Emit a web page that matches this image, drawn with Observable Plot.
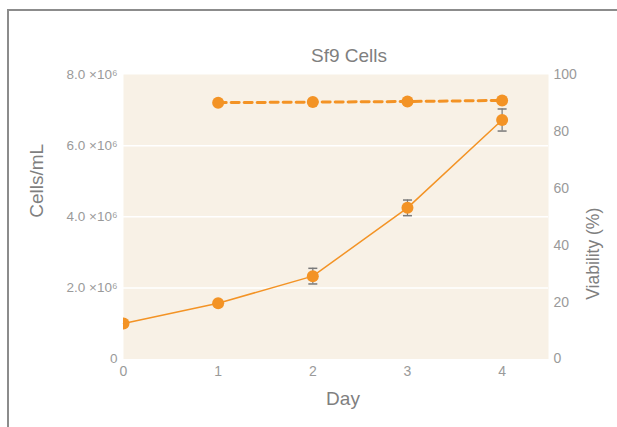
<!DOCTYPE html>
<html><head><meta charset="utf-8">
<script src="https://cdn.jsdelivr.net/npm/d3@7"></script>
<script src="https://cdn.jsdelivr.net/npm/@observablehq/plot@0.6"></script>
<style>
body{margin:0;background:#fff;overflow:hidden;width:617px;height:427px}
#box{position:absolute;left:7px;top:9px;width:700px;height:500px;border:2px solid #8c8c8c;}
#chart{position:absolute;left:0;top:0}
</style>
</head><body><div id="box"></div><div id="chart"></div>
<script>
const title = "Sf9 Cells";
const xLabel = "Day";
const yLabel = "Cells/mL";
const y2Label = "Viability (%)";
const days = [0, 1, 2, 3, 4];
const cells = [1.0e6, 1.57e6, 2.33e6, 4.25e6, 6.72e6];
const cellsErr = [0, 0, 0.22e6, 0.22e6, 0.31e6];
const viaDays = [1, 2, 3, 4];
const viability = [90.1, 90.3, 90.5, 90.9];
const xTicks = [0, 1, 2, 3, 4];
const yTicks = [0, 2e6, 4e6, 6e6, 8e6];
const vTicks = [0, 20, 40, 60, 80, 100];

const orange = "#f39325";
const vScale = 8e6 / 100;
const cellData = days.map((d, i) => ({day: d, v: cells[i], lo: cells[i] - cellsErr[i], hi: cells[i] + cellsErr[i], err: cellsErr[i]}));
const errData = cellData.filter(d => d.err > 0);
const viaData = viaDays.map((d, i) => ({day: d, v: viability[i] * vScale}));
const capSymbol = {draw(ctx, size) { const r = Math.sqrt(size / Math.PI); ctx.moveTo(-r, 0); ctx.lineTo(r, 0); }};
const fmt = d => d === 0 ? "0" : (d / 1e6).toFixed(1) + " \u00d710\u2076";

const chart = Plot.plot({
  width: 617, height: 427,
  marginLeft: 123, marginRight: 69, marginTop: 74, marginBottom: 68.5,
  style: {fontFamily: "'Liberation Sans', Arial, sans-serif", fontSize: "14px", color: "#9a9a9a", background: "transparent"},
  x: {domain: [0, 4.49]},
  y: {domain: [0, 8e6]},
  marks: [
    Plot.frame({fill: "#f8f1e6", stroke: null}),
    Plot.gridY([2e6, 4e6, 6e6], {stroke: "#fff", strokeOpacity: 1, strokeWidth: 1.5}),
    Plot.axisX(xTicks, {tickSize: 0, tickPadding: 7, label: null, tickFormat: d => String(d)}),
    Plot.axisY(yTicks, {anchor: "left", tickSize: 0, tickPadding: 6, label: null, fontSize: 13.5, tickFormat: fmt}),
    Plot.axisY(vTicks.map(v => v * vScale), {anchor: "right", tickSize: 0, tickPadding: 5, label: null, tickFormat: d => String(Math.round(d / vScale))}),
    Plot.line(viaData, {x: "day", y: "v", stroke: orange, strokeWidth: 3, strokeDasharray: "8,5"}),
    Plot.line(cellData, {x: "day", y: "v", stroke: orange, strokeWidth: 1.5}),
    Plot.ruleX(errData, {x: "day", y1: "lo", y2: "hi", stroke: "#7a7a7a", strokeWidth: 1.2}),
    Plot.dot(viaData, {x: "day", y: "v", r: 6, fill: orange, stroke: null}),
    Plot.dot(cellData, {x: "day", y: "v", r: 6, fill: orange, stroke: null, clip: true}),
    Plot.dot(errData, {x: "day", y: "hi", r: 4.5, symbol: capSymbol, stroke: "#7a7a7a", strokeWidth: 1.5}),
    Plot.dot(errData, {x: "day", y: "lo", r: 4.5, symbol: capSymbol, stroke: "#7a7a7a", strokeWidth: 1.5}),
    Plot.text([title], {frameAnchor: "top", lineAnchor: "middle", dx: 13, dy: -19, fontSize: 19, fill: "#7f7f7f"}),
    Plot.text([xLabel], {frameAnchor: "bottom", lineAnchor: "middle", dx: 7, dy: 39.5, fontSize: 19, fill: "#7f7f7f"}),
    Plot.text([yLabel], {frameAnchor: "left", dx: -87, dy: 1, rotate: -90, fontSize: 19, fill: "#7f7f7f"}),
    Plot.text([y2Label], {frameAnchor: "right", dx: 45, dy: -9, rotate: -90, fontSize: 17.5, fill: "#7f7f7f"})
  ]
});
document.getElementById("chart").appendChild(chart);
</script>
</body></html>
